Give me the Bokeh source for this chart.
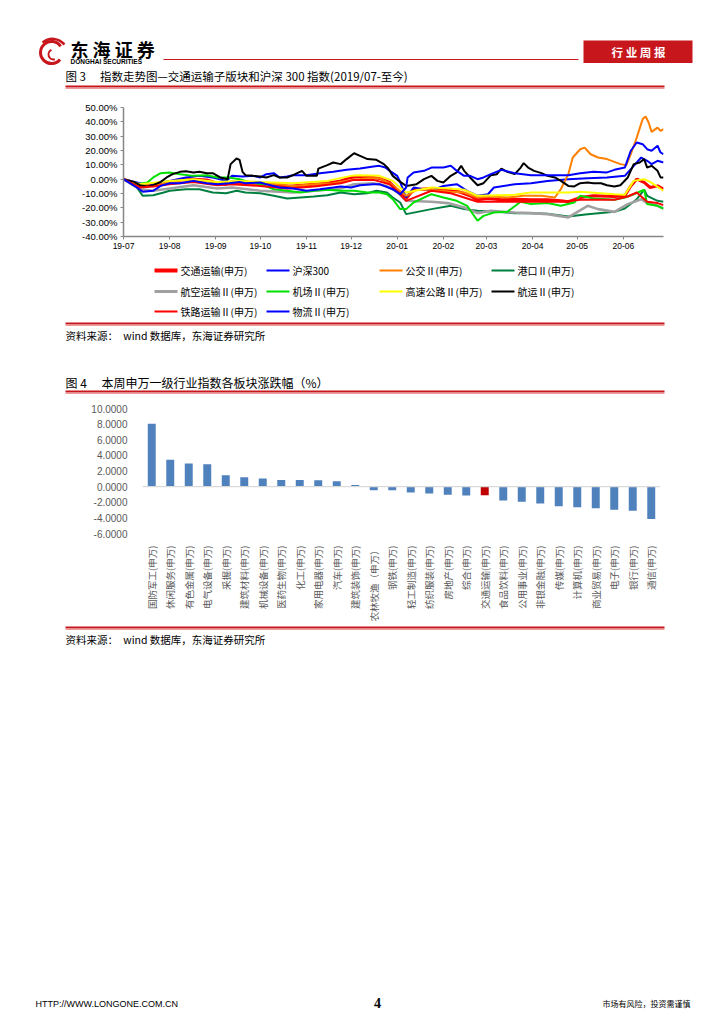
import pandas as pd
from bokeh.plotting import figure
from bokeh.models import (FixedTicker, PrintfTickFormatter, DatetimeTickFormatter,
                          Span, ColumnDataSource, Range1d)
from bokeh.embed import file_html
from bokeh.resources import INLINE
from bokeh.core.properties import value

# ---------------- data: figure 3 (index trend since 2019-07, %) ----------------
series_names = ["交通运输(申万)", "沪深300", "公交Ⅱ(申万)", "港口Ⅱ(申万)", "航空运输Ⅱ(申万)",
                "机场Ⅱ(申万)", "高速公路Ⅱ(申万)", "航运Ⅱ(申万)", "铁路运输Ⅱ(申万)", "物流Ⅱ(申万)"]
series_colors = ["#FF0000", "#0000FF", "#FF8000", "#008040", "#A0A0A0",
                 "#00E000", "#FFFF00", "#000000", "#FF0000", "#0000FF"]
series_widths = [3, 2, 2, 2, 2.6, 2, 2, 2, 2, 2]

jiaotong_d = ["19-07-01","19-07-12","19-07-17","19-07-26","19-08-01","19-08-08","19-08-17","19-08-26","19-09-02","19-09-08","19-09-12","19-09-21","19-10-01","19-10-10","19-10-19","19-10-28","19-11-06","19-11-15","19-11-24","19-12-01","19-12-07","19-12-16","19-12-20","19-12-27","20-01-03","20-01-07","20-01-12","20-01-24","20-02-01","20-02-06","20-02-13","20-02-19","20-02-24","20-03-02","20-03-11","20-03-20","20-03-31","20-04-11","20-04-20","20-04-25","20-05-03","20-05-12","20-05-26","20-06-02","20-06-06","20-06-10","20-06-15","20-06-19","20-06-24","20-06-28"]
jiaotong = [0,-4.6,-4.2,-2.8,-1.9,-0.5,0,-0.5,-2.8,-3.5,-1.9,-2.8,-2.8,-3.5,-5.1,-4.2,-3.5,-2.8,-1.2,1.2,1.9,1.2,0.5,-2.3,-9.3,-13.5,-7.4,-6.5,-8.1,-7,-9.3,-11.6,-14.4,-13.5,-14.4,-14,-14.4,-14.4,-15.1,-15.8,-12.8,-11.6,-12.1,-11.6,-4.7,0,-2.3,-5.8,-4.7,-7]

hs300_d = ["19-07-01","19-07-10","19-07-14","19-07-17","19-07-23","19-08-01","19-08-12","19-08-21","19-08-30","19-09-08","19-09-12","19-09-19","19-09-26","19-10-01","19-10-05","19-10-10","19-10-14","19-10-19","19-10-23","19-11-01","19-11-10","19-11-19","19-11-28","19-12-07","19-12-16","19-12-20","19-12-24","19-12-27","20-01-01","20-01-03","20-01-07","20-01-12","20-01-24","20-02-01","20-02-10","20-02-17","20-02-24","20-03-02","20-03-06","20-03-20","20-03-31","20-04-11","20-04-25","20-05-08","20-05-21","20-06-02","20-06-08","20-06-13","20-06-17","20-06-20","20-06-24","20-06-28"]
hs300 = [0,-2.3,-3.5,-5.1,-2.8,-1.2,1.2,2.3,1.2,-1.2,2.3,1.9,2.3,1.2,3.5,4.2,1.2,1.9,2.8,2.8,4.2,5.1,6.5,7.4,8.8,9.3,8.1,5.8,2.3,-2,-12.8,-5.8,-8.1,-4.7,-3.5,-8.1,-11.6,-10.5,-5.8,-3.5,-2.8,-1.2,0,0.7,1.2,2.3,9.3,15.1,12.8,10.5,12.8,11.6]

gongjiao_d = ["19-07-01","19-07-12","19-07-21","19-08-01","19-08-12","19-08-21","19-08-30","19-09-09","19-09-17","19-10-01","19-10-14","19-10-23","19-11-06","19-11-19","19-12-01","19-12-12","19-12-20","19-12-28","20-01-07","20-01-14","20-01-24","20-02-06","20-02-15","20-02-24","20-03-04","20-03-15","20-03-26","20-04-07","20-04-16","20-04-20","20-04-25","20-04-28","20-05-03","20-05-06","20-05-10","20-05-15","20-05-21","20-05-26","20-05-30","20-06-03","20-06-06","20-06-10","20-06-14","20-06-16","20-06-18","20-06-20","20-06-24","20-06-26","20-06-28"]
gongjiao = [0,-4.2,-4.7,-2.3,-0.5,-1.2,-1.9,-2.8,-1.9,-3.5,-3.5,-4.7,-3.5,-2.8,-0.5,0.7,0.7,-3.5,-11.6,-7.4,-7.4,-8.8,-9.3,-12.8,-12.1,-12.8,-11.6,-11.6,-12.8,-7,3.5,15.1,20.9,22,17.4,15.1,14,12.1,10.5,9.8,17.4,29,41.9,43.7,39.5,33,36,33.7,34.9]

gangkou_d = ["19-07-01","19-07-10","19-07-14","19-07-21","19-07-28","19-08-01","19-08-12","19-08-21","19-08-30","19-09-08","19-09-15","19-09-21","19-10-01","19-10-10","19-10-19","19-10-28","19-11-06","19-11-15","19-11-24","19-12-03","19-12-12","19-12-18","19-12-25","19-12-29","20-01-03","20-01-07","20-01-24","20-02-06","20-02-15","20-02-24","20-03-08","20-03-20","20-03-31","20-04-11","20-04-25","20-05-08","20-05-26","20-06-02","20-06-10","20-06-15","20-06-17","20-06-24","20-06-28"]
gangkou = [0,-5.8,-11.6,-11.2,-9.3,-8.1,-7,-7,-9.3,-9.8,-8.1,-9.3,-9.8,-11.6,-13.5,-12.8,-12.1,-11.2,-9.3,-10.5,-9.8,-8.1,-9.3,-12.8,-16.3,-24.4,-20.9,-18.6,-20.9,-22.1,-22.8,-23.7,-23.7,-24.2,-26,-24.4,-22.8,-20.5,-14,-7.4,-11.6,-15.1,-15.8]

hangkong_d = ["19-07-01","19-07-12","19-07-21","19-08-01","19-08-17","19-09-02","19-09-12","19-10-01","19-10-23","19-11-06","19-11-24","19-12-03","19-12-16","19-12-25","20-01-01","20-01-07","20-01-24","20-02-04","20-02-15","20-02-24","20-03-04","20-03-20","20-03-31","20-04-11","20-04-25","20-05-08","20-05-15","20-05-26","20-06-04","20-06-13","20-06-17","20-06-24","20-06-28"]
hangkong = [0,-7,-8.1,-6.5,-4.2,-6.5,-5.8,-8.1,-9.3,-8.1,-6.5,-3.5,-2.8,-4.7,-9,-15.1,-15.8,-16.7,-19.8,-23.7,-22.1,-23.3,-23.7,-24.4,-26.7,-18.6,-20.9,-22.8,-17.4,-14,-16.7,-18.6,-20.5]

jichang_d = ["19-07-01","19-07-10","19-07-17","19-07-21","19-07-26","19-08-01","19-08-08","19-08-17","19-08-26","19-09-02","19-09-10","19-09-17","19-09-23","19-10-01","19-10-10","19-10-19","19-10-28","19-11-06","19-11-15","19-11-24","19-12-03","19-12-12","19-12-20","19-12-25","19-12-29","20-01-03","20-01-07","20-01-12","20-01-24","20-02-01","20-02-10","20-02-17","20-02-24","20-02-28","20-03-06","20-03-15","20-03-24","20-03-31","20-04-11","20-04-20","20-04-29","20-05-03","20-05-12","20-05-26","20-06-02","20-06-08","20-06-15","20-06-17","20-06-24","20-06-28"]
jichang = [0,-3.5,-2.3,1.2,4.2,4.7,3.5,2.3,2.8,1.2,1.2,0,-1.9,-3.5,-7,-8.1,-9.3,-8.1,-7.4,-8.1,-8.1,-9.3,-9.3,-10.5,-14,-20.9,-20.9,-16.3,-10.5,-12.8,-15.1,-18.6,-29,-25.6,-23.3,-22.8,-15.8,-17.4,-16.7,-18.6,-16.3,-11.6,-13.5,-14.4,-12.8,-10.5,-7.4,-17.4,-18.6,-20.5]

gaosu_d = ["19-07-01","19-07-12","19-08-01","19-08-17","19-09-02","19-09-17","19-10-01","19-10-23","19-11-15","19-12-01","19-12-07","19-12-20","19-12-29","20-01-03","20-01-07","20-01-24","20-02-04","20-02-15","20-02-24","20-03-20","20-03-31","20-04-11","20-04-25","20-05-03","20-05-26","20-06-02","20-06-08","20-06-15","20-06-19","20-06-28"]
gaosu = [0,-3.5,-1.2,0,-1.9,-1.2,-1.9,-2.8,-1.2,2.3,2.8,2.3,-1.2,-6,-9.3,-5.8,-6.5,-7.4,-11.6,-10.9,-9.3,-9.3,-9.3,-8.8,-10.5,-10.9,-1.2,0,-1.9,-8.1]

hangyun_d = ["19-07-01","19-07-08","19-07-12","19-07-17","19-07-21","19-07-26","19-07-30","19-08-03","19-08-08","19-08-12","19-08-17","19-08-21","19-08-26","19-08-30","19-09-04","19-09-09","19-09-11","19-09-15","19-09-17","19-09-19","19-09-21","19-09-26","19-10-01","19-10-05","19-10-10","19-10-14","19-10-19","19-10-23","19-10-29","19-11-01","19-11-08","19-11-09","19-11-15","19-11-19","19-11-24","19-11-28","19-12-03","19-12-07","19-12-12","19-12-18","19-12-23","19-12-26","19-12-29","20-01-03","20-01-07","20-01-10","20-01-14","20-01-19","20-01-24","20-01-28","20-02-01","20-02-06","20-02-10","20-02-13","20-02-15","20-02-19","20-02-24","20-02-28","20-03-04","20-03-08","20-03-11","20-03-15","20-03-20","20-03-24","20-03-26","20-03-29","20-04-02","20-04-07","20-04-11","20-04-16","20-04-20","20-04-25","20-04-29","20-05-03","20-05-08","20-05-12","20-05-17","20-05-21","20-05-26","20-05-30","20-06-04","20-06-08","20-06-12","20-06-15","20-06-17","20-06-20","20-06-24","20-06-26","20-06-28"]
hangyun = [0,-1.9,-4.2,-5.1,-4.2,-1.9,1.2,3.5,5.1,5.6,4.7,5.1,4.2,4.2,1.2,0,10.5,14.4,13.5,5.1,2.8,2.3,1.9,1.2,2.8,1.2,1.2,2.8,5.8,2.3,2.3,7.4,9.8,11.6,10.5,14,18.1,16.3,14,13.5,10.5,7.4,2.3,-1.9,-4.7,-4.2,-3.5,0,2.3,-1.2,-2.3,2.3,4.7,9.3,5.8,1.2,-4.2,-2.8,2.8,3.5,7.4,5.1,3.5,8.1,11.2,8.1,5.8,4.2,2.3,1.2,-1.2,-4.7,-5.1,-2.8,-2.3,-2.8,-2.8,-4.2,-5.1,-4.2,1.2,10.5,11.6,14,8.1,9.3,5.8,1.2,1.2]

tielu_d = ["19-07-01","19-07-12","19-07-21","19-08-01","19-08-17","19-09-02","19-09-12","19-10-01","19-10-19","19-11-06","19-11-24","19-12-03","19-12-16","19-12-27","20-01-03","20-01-07","20-01-24","20-02-06","20-02-24","20-03-11","20-03-31","20-04-20","20-05-03","20-05-26","20-06-04","20-06-10","20-06-17","20-06-24","20-06-28"]
tielu = [0,-5.8,-5.1,-3.5,-1.9,-4.2,-3.5,-4.7,-6.5,-5.1,-2.8,-0.5,-0.5,-3.5,-10.5,-15.1,-8.1,-9.8,-15.8,-15.8,-15.8,-15.8,-14.4,-14.4,-12.1,-9.3,-15.8,-16.7,-18.1]

wuliu_d = ["19-07-01","19-07-10","19-07-14","19-07-21","19-07-26","19-08-01","19-08-08","19-08-17","19-08-26","19-09-02","19-09-10","19-09-17","19-09-21","19-10-01","19-10-05","19-10-14","19-10-23","19-11-01","19-11-10","19-11-19","19-11-24","19-12-01","19-12-07","19-12-16","19-12-20","19-12-29","20-01-03","20-01-07","20-01-08","20-01-12","20-01-19","20-01-24","20-02-01","20-02-06","20-02-10","20-02-15","20-02-19","20-02-24","20-02-28","20-03-04","20-03-11","20-03-20","20-03-31","20-04-11","20-04-25","20-05-03","20-05-12","20-05-21","20-05-26","20-06-02","20-06-06","20-06-10","20-06-14","20-06-17","20-06-20","20-06-24","20-06-26","20-06-28"]
wuliu = [0,-5.8,-8.8,-8.1,-4.7,-2.8,-2.8,-1.2,-2.8,-3.5,-2.8,-1.9,-2.8,-2.3,-3.5,-5.8,-6.5,-8.1,-7,-5.8,-5.1,-5.8,-4.2,-3.5,-3.5,-7,-10.5,-5.8,1.2,4.7,5.8,8.1,8.1,9.3,5.8,2.3,2.3,0,1.2,3.5,6.5,4.2,2.8,2.8,2.8,4.2,5.1,4.7,6.5,8.1,19.8,25.6,24.4,20.9,19.8,23.3,18.6,17.4]

series_dates = [jiaotong_d, hs300_d, gongjiao_d, gangkou_d, hangkong_d,
                jichang_d, gaosu_d, hangyun_d, tielu_d, wuliu_d]
series_values = [jiaotong, hs300, gongjiao, gangkou, hangkong, jichang, gaosu, hangyun, tielu, wuliu]

month_ticks = ["2019-07-01", "2019-08-01", "2019-09-01", "2019-10-01", "2019-11-01", "2019-12-01",
               "2020-01-01", "2020-02-01", "2020-03-01", "2020-04-01", "2020-05-01", "2020-06-01"]
y_ticks_pct = [-40, -30, -20, -10, 0, 10, 20, 30, 40, 50]

# ---------------- data: figure 4 (weekly change of SW level-1 industries, %) ----------------
industries = ["国防军工(申万)", "休闲服务(申万)", "有色金属(申万)", "电气设备(申万)", "采掘(申万)",
              "建筑材料(申万)", "机械设备(申万)", "医药生物(申万)", "化工(申万)", "家用电器(申万)",
              "汽车(申万)", "建筑装饰(申万)", "农林牧渔（申万）", "钢铁(申万)", "轻工制造(申万)",
              "纺织服装(申万)", "房地产(申万)", "综合(申万)", "交通运输(申万)", "食品饮料(申万)",
              "公用事业(申万)", "非银金融(申万)", "传媒(申万)", "计算机(申万)", "商业贸易(申万)",
              "电子(申万)", "银行(申万)", "通信(申万)"]
changes = [8.05, 3.45, 2.95, 2.85, 1.45, 1.2, 1.05, 0.85, 0.85, 0.82, 0.7, 0.22, -0.45, -0.45,
           -0.75, -0.88, -1.05, -1.12, -1.1, -1.78, -1.95, -2.16, -2.5, -2.63, -2.76, -2.97, -3.1, -4.15]
bar_ticks = [-6, -4, -2, 0, 2, 4, 6, 8, 10]

RED = "#C8161D"
CJK = value("Noto Sans CJK SC")
W = 724


def deco(y0, y1):
    f = figure(width=W, height=y1 - y0, x_range=(0, W), y_range=(y1, y0),
               x_axis_type=None, y_axis_type=None, output_backend="svg",
               toolbar_location=None, min_border=0)
    f.grid.visible = False
    f.outline_line_color = None
    return f


def red_rule(f, y, x0=65, x1=664):
    f.segment(x0=[x0], y0=[y], x1=[x1], y1=[y], line_color=RED, line_width=2.2)
    f.segment(x0=[x0], y0=[y + 2], x1=[x1], y1=[y + 2], line_color="#EE9A9A", line_width=1)


def txt(f, x, y, s, size, color="#000000", font=CJK, style="normal", align="left"):
    f.text(x=[x], y=[y], text=[s], text_font=font, text_font_size=value(size),
           text_color=color, text_font_style=style, text_baseline="middle", text_align=align)

# ---------------- header ----------------
head = deco(0, 100)
head.arc(x=[51], y=[52], radius=11, start_angle=0.6, end_angle=5.6, line_color=RED, line_width=3)
head.arc(x=[53], y=[54], radius=5, start_angle=2.0, end_angle=5.0, line_color=RED, line_width=2)
head.bezier(x0=[42], y0=[42], x1=[64], y1=[44], cx0=[50], cy0=[36], cx1=[58], cy1=[38],
            line_color=RED, line_width=2.5)
txt(head, 70, 48, "东 海 证 券", "18px", style="bold")
txt(head, 70, 60.5, "DONGHAI SECURITIES", "6.5px", font=value("Liberation Sans"), style="bold")
head.segment(x0=[163], y0=[59], x1=[578], y1=[59], line_color=RED, line_width=1.2)
head.quad(left=[583], right=[692], top=[40], bottom=[62.5], fill_color=RED, line_color=None)
txt(head, 638, 51, "行 业 周 报", "11.5px", color="#FFFFFF", style="bold", align="center")
txt(head, 65, 75, "图 3\u3000 指数走势图—交通运输子版块和沪深 300 指数(2019/07-至今)", "11.5px")
red_rule(head, 86)

# ---------------- figure 3: line chart ----------------
fl = figure(width=W, height=158, x_axis_type="datetime",
            x_range=(pd.Timestamp("2019-07-01"), pd.Timestamp("2020-06-28")), y_range=(-40, 50),
            output_backend="svg", toolbar_location=None,
            min_border_left=123, min_border_right=61, min_border_top=7, min_border_bottom=22)
fl.grid.visible = False
fl.outline_line_color = None
for d, vals, col, lw in zip(series_dates, series_values, series_colors, series_widths):
    fl.line(x=pd.to_datetime(d, format="%y-%m-%d"), y=vals, line_color=col, line_width=lw)
fl.xaxis.ticker = FixedTicker(ticks=[pd.Timestamp(t).value / 1e6 for t in month_ticks])
fl.xaxis.formatter = DatetimeTickFormatter(days="%y-%m", months="%y-%m", years="%y-%m")
fl.yaxis.ticker = FixedTicker(ticks=y_ticks_pct)
fl.yaxis.formatter = PrintfTickFormatter(format="%.2f%%")
for ax in (fl.xaxis[0], fl.yaxis[0]):
    ax.axis_line_color = "#868686"
    ax.axis_line_width = 1.5
    ax.major_tick_line_color = "#868686"
    ax.major_tick_out = 3
    ax.major_tick_in = 0
    ax.minor_tick_line_color = None
    ax.major_label_text_font = "Liberation Sans"
    ax.major_label_text_color = "#000000"
    ax.major_label_standoff = 3
fl.yaxis.major_label_text_font_size = "9.5px"
fl.xaxis.major_label_text_font_size = "8.5px"

# ---------------- legend + captions ----------------
leg = deco(258, 395)
col_x = [154, 266, 379, 491]
row_y = [270, 291, 311]
for i, (name, col, lw) in enumerate(zip(series_names, series_colors, series_widths)):
    cx = col_x[i % 4]
    ry = row_y[i // 4]
    leg.segment(x0=[cx], y0=[ry], x1=[cx + 23], y1=[ry], line_color=col,
                line_width=4 if i == 0 else (3 if lw > 2 else 2.2))
    txt(leg, cx + 26, ry, name, "10px", color="#000000")
red_rule(leg, 323)
txt(leg, 65, 335, "资料来源：\u3000wind 数据库，东海证券研究所", "10.5px")
txt(leg, 65, 382, "图 4\u3000 本周申万一级行业指数各板块涨跌幅（%）", "12px")
red_rule(leg, 391)

# ---------------- figure 4: bar chart ----------------
bar_colors = ["#C00000" if c == "交通运输(申万)" else "#4F81BD" for c in industries]
positions = list(range(len(industries)))
src = ColumnDataSource(dict(x=positions, top=changes, color=bar_colors))
fb = figure(width=W, height=229, x_range=Range1d(-0.5, len(industries) - 0.5), y_range=(-6, 10),
            output_backend="svg", toolbar_location=None,
            min_border_left=142, min_border_right=64, min_border_top=13, min_border_bottom=91)
fb.grid.visible = False
fb.outline_line_color = None
fb.vbar(x="x", top="top", width=0.43, fill_color="color", line_color=None, source=src)
fb.add_layout(Span(location=0, dimension="width", line_color="#D9D9D9", line_width=1.2))
fb.xaxis.ticker = FixedTicker(ticks=positions)
fb.xaxis.major_label_overrides = {i: c for i, c in zip(positions, industries)}
fb.yaxis.ticker = FixedTicker(ticks=bar_ticks)
fb.yaxis.formatter = PrintfTickFormatter(format="%.4f")
for ax in (fb.xaxis[0], fb.yaxis[0]):
    ax.axis_line_color = None
    ax.major_tick_line_color = None
    ax.minor_tick_line_color = None
    ax.major_label_text_color = "#595959"
fb.yaxis.major_label_text_font = "Liberation Sans"
fb.yaxis.major_label_text_font_size = "10px"
fb.yaxis.major_label_standoff = 9
fb.xaxis.major_label_orientation = 3.14159265 / 2
fb.xaxis.major_label_text_font = "Noto Sans CJK SC"
fb.xaxis.major_label_text_font_size = "9.5px"
fb.xaxis.major_label_standoff = 6

# ---------------- footer ----------------
foot = deco(624, 1024)
red_rule(foot, 627)
txt(foot, 65, 639, "资料来源：\u3000wind 数据库，东海证券研究所", "10.5px")
txt(foot, 35, 1003, "HTTP://WWW.LONGONE.COM.CN", "9px", font=value("Liberation Sans"))
txt(foot, 377, 1002, "4", "14px", font=value("Liberation Serif"), style="bold", align="center")
txt(foot, 690, 1003, "市场有风险，投资需谨慎", "8px", align="right")

open("out.html", "w").write(file_html([head, fl, leg, fb, foot], INLINE))
